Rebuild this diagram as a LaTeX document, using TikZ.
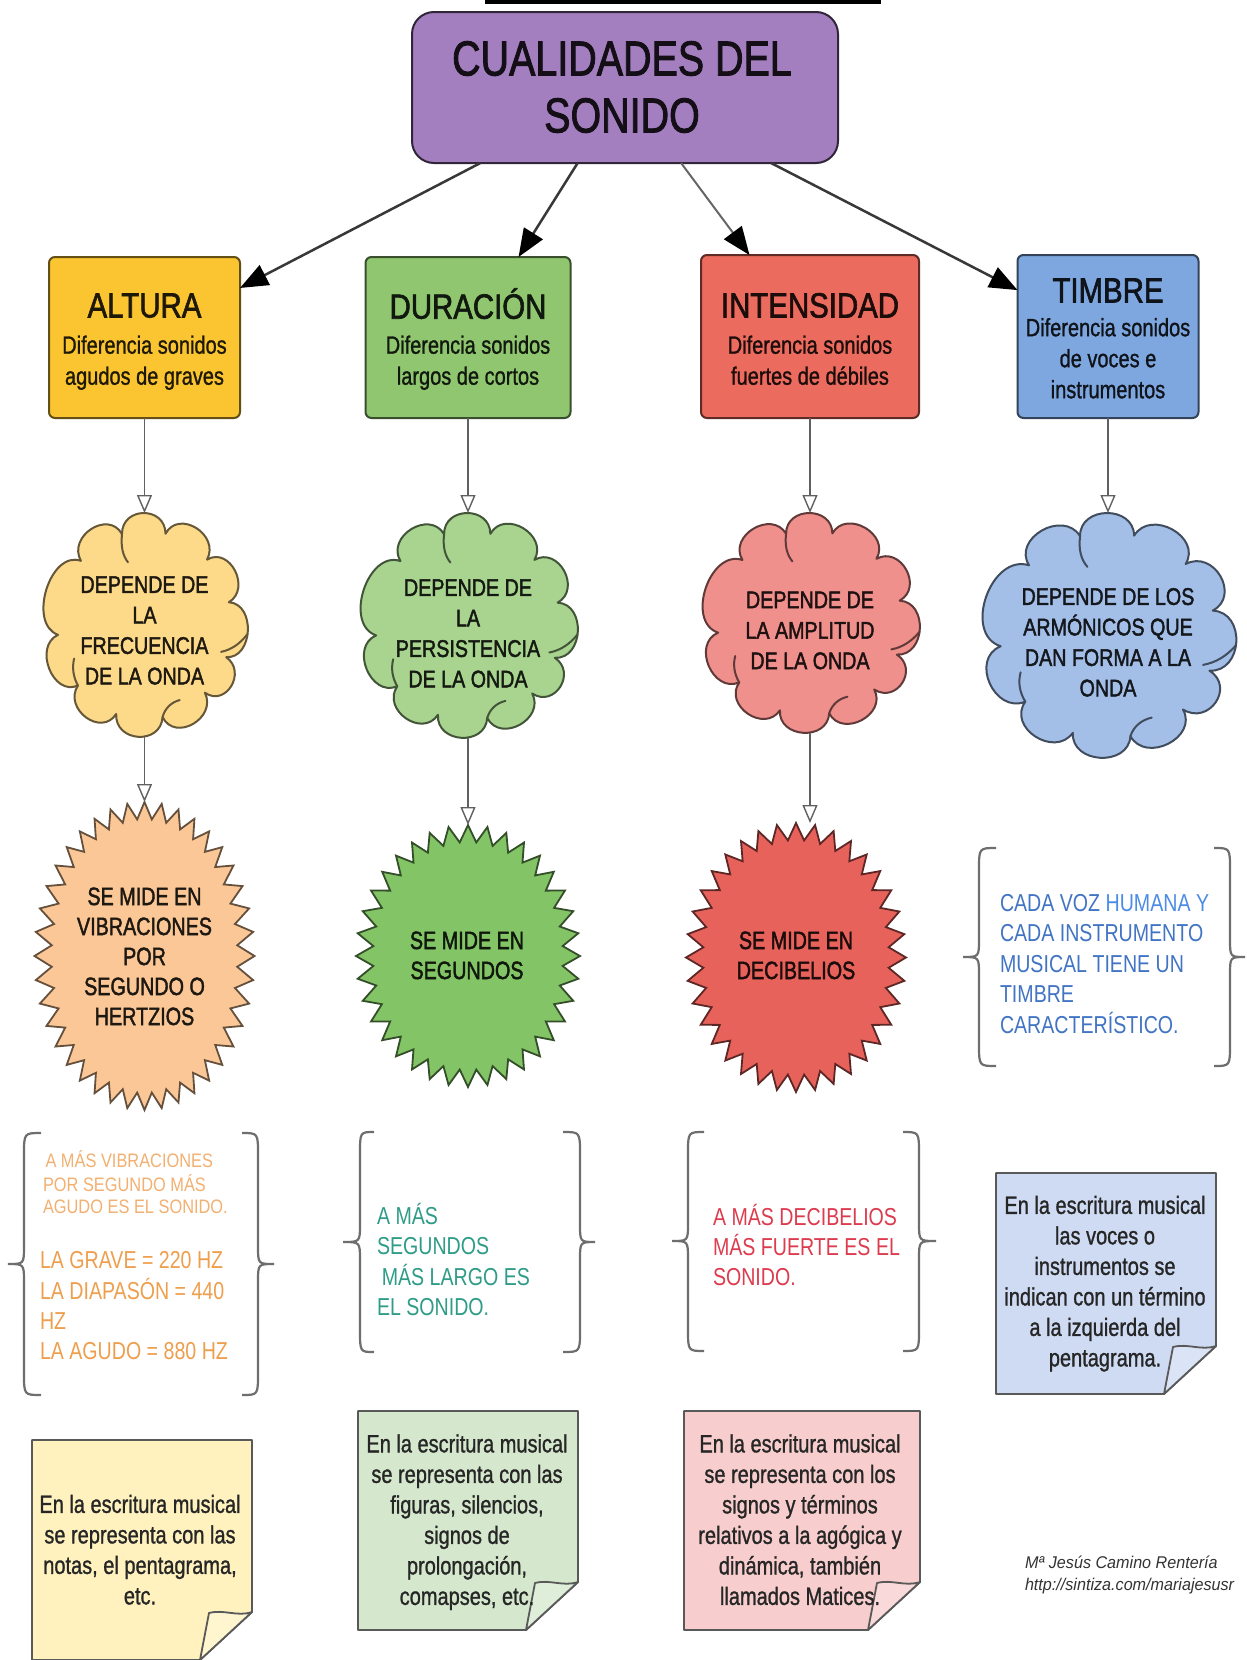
\documentclass[tikz,border=0pt]{standalone}
\usepackage{fontspec}
\setmainfont{Liberation Sans}
\newfontfamily\hvb{Liberation Sans}[FakeBold=2]
\newfontfamily\hvn{Liberation Sans}[FakeBold=1.2]
\usepackage{graphicx}
\usetikzlibrary{arrows.meta,shapes.geometric}
\definecolor{ttl}{RGB}{164,127,191}
\definecolor{ya}{RGB}{251,197,49}
\definecolor{ga}{RGB}{145,198,112}
\definecolor{ra}{RGB}{236,107,95}
\definecolor{ba}{RGB}{127,167,223}
\definecolor{yc}{RGB}{253,217,138}
\definecolor{gc}{RGB}{168,212,143}
\definecolor{rc}{RGB}{240,144,140}
\definecolor{bc}{RGB}{163,191,232}
\definecolor{ys}{RGB}{251,199,150}
\definecolor{gs}{RGB}{131,196,102}
\definecolor{rs}{RGB}{232,98,92}
\definecolor{yn}{RGB}{255,242,191}
\definecolor{gn}{RGB}{213,232,205}
\definecolor{rn}{RGB}{247,205,205}
\definecolor{bn}{RGB}{207,219,243}
\definecolor{ot}{RGB}{238,159,78}
\definecolor{otl}{RGB}{242,176,113}
\definecolor{tt}{RGB}{46,156,135}
\definecolor{rt}{RGB}{221,59,78}
\definecolor{bt}{RGB}{66,116,196}
\definecolor{btl}{RGB}{76,140,230}
\definecolor{brc}{RGB}{110,110,110}
\newcommand{\fsz}[2]{\fontsize{#1}{#2}\selectfont}
\newcommand{\blk}[3][0.8]{\scalebox{#1}[1]{\begin{tabular}{@{}#2@{}}#3\end{tabular}}}
\newcommand{\burst}[6]{\draw[line width=1.8pt, draw=#6!40!black, fill=#6, line join=miter, miter limit=20]
  plot[samples at={0,...,#5}] ({#1+(#3-17*mod(\x,2))*sin((360/(#5+1))*\x)},{#2-(#4-17*mod(\x,2))*cos((360/(#5+1))*\x)}) -- cycle;}
\newcommand{\cloudpath}[5]{\begin{scope}[shift={(#1,#2)},xscale=#3,yscale=#4]
\draw[line width=2pt, draw=#5!40!black, fill=#5, line join=round] (-0.1087,-0.4057)
 .. controls (-0.1098,-0.5302) and (0.1005,-0.5320) .. (0.1016,-0.4075)
 .. controls (0.1658,-0.5186) and (0.3663,-0.4029) .. (0.3021,-0.2918)
 .. controls (0.4121,-0.3527) and (0.5175,-0.1625) .. (0.4075,-0.1016)
 .. controls (0.5384,-0.0947) and (0.5256,0.1505) .. (0.3947,0.1436)
 .. controls (0.4961,0.2095) and (0.3932,0.368) .. (0.2918,0.3021)
 .. controls (0.352,0.4155) and (0.1475,0.5242) .. (0.0873,0.4108)
 .. controls (0.0796,0.5377) and (-0.1444,0.524) .. (-0.1367,0.3971)
 .. controls (-0.2087,0.5018) and (-0.3937,0.3747) .. (-0.3217,0.27)
 .. controls (-0.4425,0.3213) and (-0.5385,0.0952) .. (-0.4177,0.0439)
 .. controls (-0.5666,-0.006) and (-0.4561,-0.3363) .. (-0.3072,-0.2864)
 .. controls (-0.3733,-0.3965) and (-0.1748,-0.5158) .. (-0.1087,-0.4057) -- cycle;
\draw[line width=2pt, draw=#5!40!black, line cap=round]
 (-0.1087,-0.4057) .. controls (-0.115,-0.35) and (-0.105,-0.31) .. (-0.08,-0.28)
 (0.498,0.04) .. controls (0.46,0.085) and (0.42,0.11) .. (0.37,0.12)
 (-0.3217,0.27) .. controls (-0.345,0.23) and (-0.35,0.19) .. (-0.34,0.15)
 (0.0873,0.4108) .. controls (0.10,0.37) and (0.13,0.345) .. (0.17,0.335);
\end{scope}}
\newcommand{\bracepath}[6]{\draw[bracest] (#3,#4) .. controls (#2,#4) .. (#2,{#4+22}) -- (#2,{#5-18})
 .. controls (#2,#5) .. (#1,#5) .. controls (#2,#5) .. (#2,{#5+18}) -- (#2,{#6-22}) .. controls (#2,#6) .. (#3,#6);}
\newcommand{\notepath}[5]{%
 \draw[notest, fill=#5] (#1,#2) -- (#3,#2) -- (#3,{#4-48}) -- ({#3-52},#4) -- (#1,#4) -- cycle;
 \draw[notest, fill=#5!75!white] (#3,{#4-48}) .. controls ({#3-15},{#4-43}) and ({#3-28},{#4-51}) .. ({#3-43},{#4-47}) -- ({#3-52},#4) -- cycle;}
\begin{document}
\begin{tikzpicture}[x=1pt,y=-1pt,
 every node/.style={inner sep=0pt,outer sep=0pt},
 boxst/.style={draw=#1!40!black, fill=#1, line width=2pt, rounded corners=6pt},
 anc/.style={ellipse},
 bigarrow/.style={draw=black!78, line width=2.5pt, -{Triangle[length=28pt,width=22pt,color=black]}},
 thinarrow/.style={draw=black!62, line width=1.4pt, -{Triangle[length=18pt,width=15pt,fill=white]}},
 bracest/.style={draw=brc, line width=2.2pt},
 notest/.style={draw=black!65, line width=1.8pt, line join=round}]
\useasboundingbox (0,0) rectangle (1247,1660);
\fill[white] (0,0) rectangle (1247,1660);
\fill[black] (485,0) rectangle (881,4);
% title
\node[draw=ttl!30!black, fill=ttl, line width=2pt, rounded corners=22pt, minimum width=426pt, minimum height=151pt] (title) at (625,87.5) {};
\node[font=\hvb\fsz{49}{57}, text=ttl!12!black] (titlet) at (622,92.5) {\blk[0.805]{c}{CUALIDADES DEL\\SONIDO}};
% boxes
\node[boxst=ya, minimum width=191pt, minimum height=161pt] (alt) at (144.5,337.5) {};
\node[boxst=ga, minimum width=205pt, minimum height=161pt] (dur) at (468,337.5) {};
\node[boxst=ra, minimum width=218pt, minimum height=163pt] (int) at (810,336.5) {};
\node[boxst=ba, minimum width=181pt, minimum height=163pt] (tim) at (1108,336.5) {};
\node[font=\hvb\fsz{35}{40}, text=ya!12!black] (altt) at (144.5,309.5) {\blk[0.84]{c}{ALTURA}};
\node[font=\hvb\fsz{35}{40}, text=ga!12!black] (durt) at (468,309.5) {\blk[0.84]{c}{DURACIÓN}};
\node[font=\hvb\fsz{35}{40}, text=ra!12!black] (intt) at (810,309.5) {\blk[0.84]{c}{INTENSIDAD}};
\node[font=\hvb\fsz{35}{40}, text=ba!12!black] (timt) at (1108,294.5) {\blk[0.84]{c}{TIMBRE}};
\node[font=\hvn\fsz{25}{31}, text=ya!12!black] (alts) at (144.5,363) {\blk{c}{Diferencia sonidos\\agudos de graves}};
\node[font=\hvn\fsz{25}{31}, text=ga!12!black] (durs) at (468,363) {\blk{c}{Diferencia sonidos\\largos de cortos}};
\node[font=\hvn\fsz{25}{31}, text=ra!12!black] (ints) at (810,363) {\blk{c}{Diferencia sonidos\\fuertes de débiles}};
\node[font=\hvn\fsz{25}{31}, text=ba!12!black] (tims) at (1108,361) {\blk{c}{Diferencia sonidos\\de voces e\\instrumentos}};
% clouds
\node[anc, minimum width=207pt, minimum height=224pt] (c1) at (144.5,625) {};
\node[anc, minimum width=220pt, minimum height=225pt] (c2) at (468,625.5) {};
\node[anc, minimum width=220pt, minimum height=220pt] (c3) at (810,623) {};
\node[anc, minimum width=257pt, minimum height=245pt] (c4) at (1108,635.5) {};
\cloudpath{144.5}{625}{207}{224}{yc}
\cloudpath{468}{625.5}{220}{225}{gc}
\cloudpath{810}{623}{220}{220}{rc}
\cloudpath{1108}{635.5}{257}{245}{bc}
\node[font=\hvb\fsz{24}{30.5}, text=yc!12!black] (c1t) at (144.5,632.5) {\blk[0.82]{c}{DEPENDE DE\\LA\\FRECUENCIA\\DE LA ONDA}};
\node[font=\hvb\fsz{24}{30.5}, text=gc!12!black] (c2t) at (468,635.5) {\blk[0.82]{c}{DEPENDE DE\\LA\\PERSISTENCIA\\DE LA ONDA}};
\node[font=\hvb\fsz{24}{30.5}, text=rc!12!black] (c3t) at (810,632.5) {\blk[0.82]{c}{DEPENDE DE\\LA AMPLITUD\\DE LA ONDA}};
\node[font=\hvb\fsz{24}{30.5}, text=bc!12!black] (c4t) at (1108,644.5) {\blk[0.82]{c}{DEPENDE DE LOS\\ARMÓNICOS QUE\\DAN FORMA A LA\\ONDA}};
% stars
\node[anc, minimum width=220pt, minimum height=308pt] (s1) at (144.5,956) {};
\node[anc, minimum width=224pt, minimum height=262pt] (s2) at (468,956) {};
\node[anc, minimum width=220pt, minimum height=269pt] (s3) at (796,957.5) {};
\burst{144.5}{956}{110}{154}{79}{ys}
\burst{468}{956}{112}{131}{71}{gs}
\burst{796}{957.5}{110}{134.5}{71}{rs}
\node[font=\hvb\fsz{25}{30}, text=ys!12!black] (s1t) at (144.5,959) {\blk[0.79]{c}{SE MIDE EN\\VIBRACIONES\\POR\\SEGUNDO O\\HERTZIOS}};
\node[font=\hvb\fsz{25}{30}, text=gs!12!black] (s2t) at (467,958) {\blk[0.79]{c}{SE MIDE EN\\SEGUNDOS}};
\node[font=\hvb\fsz{25}{30}, text=rs!12!black] (s3t) at (796,958) {\blk[0.79]{c}{SE MIDE EN\\DECIBELIOS}};
% connectors
\draw[bigarrow] (title) -- (alt);
\draw[bigarrow] (title) -- (dur);
\draw[bigarrow, draw=black!60, line width=2pt] (title) -- (int);
\draw[bigarrow] (title) -- (tim);
\draw[thinarrow] (alt) -- (c1);
\draw[thinarrow] (dur) -- (c2);
\draw[thinarrow] (int) -- (c3);
\draw[thinarrow] (tim) -- (c4);
\draw[thinarrow] (c1) -- (s1);
\draw[thinarrow] (c2) -- (s2);
\draw[thinarrow] (c3) -- (c3 |- s3.north);
% braces
\bracepath{8}{24}{41}{1133}{1264}{1395}
\bracepath{274}{258}{242}{1133}{1264}{1395}
\bracepath{343}{360}{374}{1132}{1242}{1352}
\bracepath{595}{580}{563}{1132}{1242}{1352}
\bracepath{672}{688}{704}{1132}{1241}{1351}
\bracepath{936}{919}{903}{1132}{1241}{1351}
\bracepath{963}{979}{996}{848}{957}{1066}
\bracepath{1245}{1230}{1214}{848}{957}{1066}
\node[anchor=west, font=\fsz{19.5}{22}, text=otl] (b1a) at (43,1185.5) {\blk[0.84]{l}{\hspace{3pt}A MÁS VIBRACIONES\\POR SEGUNDO MÁS\\AGUDO ES EL SONIDO.}};
\node[anchor=west, font=\fsz{24.5}{30}, text=ot] (b1b) at (40,1308) {\blk{l}{LA GRAVE = 220 HZ\\LA DIAPASÓN = 440\\HZ\\LA AGUDO = 880 HZ}};
\node[anchor=west, font=\fsz{24.5}{30.5}, text=tt] (b2) at (377,1264) {\blk{l}{A MÁS\\SEGUNDOS\\\hspace{6pt}MÁS LARGO ES\\EL SONIDO.}};
\node[anchor=west, font=\fsz{24.5}{30}, text=rt] (b3) at (713,1249) {\blk{l}{A MÁS DECIBELIOS\\MÁS FUERTE ES EL\\SONIDO.}};
\node[anchor=west, font=\fsz{24.5}{30.5}, text=bt] (b4) at (1000,966) {\blk{l}{CADA VOZ {\color{btl}HUMANA Y}\\CADA INSTRUMENTO\\MUSICAL TIENE UN\\TIMBRE\\CARACTERÍSTICO.}};
% notes
\notepath{32}{1440}{252}{1660}{yn}
\notepath{358}{1411}{578}{1630}{gn}
\notepath{684}{1411}{920}{1630}{rn}
\notepath{996}{1173}{1216}{1394}{bn}
\node[font=\hvn\fsz{25}{30.5}, text=black!85] (n1) at (140,1552.5) {\blk{c}{En la escritura musical\\se representa con las\\notas, el pentagrama,\\etc.}};
\node[font=\hvn\fsz{25}{30.5}, text=black!85] (n2) at (467,1522.5) {\blk{c}{En la escritura musical\\se representa con las\\figuras, silencios,\\signos de\\prolongación,\\comapses, etc.}};
\node[font=\hvn\fsz{25}{30.5}, text=black!85] (n3) at (800,1522.5) {\blk{c}{En la escritura musical\\se representa con los\\signos y términos\\relativos a la agógica y\\dinámica, también\\llamados Matices.}};
\node[font=\hvn\fsz{25}{30.5}, text=black!85] (n4) at (1105,1284) {\blk{c}{En la escritura musical\\las voces o\\instrumentos se\\indican con un término\\a la izquierda del\\pentagrama.}};
\node[anchor=west, font=\fsz{17}{22}\itshape, text=black!80] (auth) at (1025,1575) {\blk[0.95]{l}{Mª Jesús Camino Rentería\\http://sintiza.com/mariajesusr}};
\end{tikzpicture}
\end{document}
